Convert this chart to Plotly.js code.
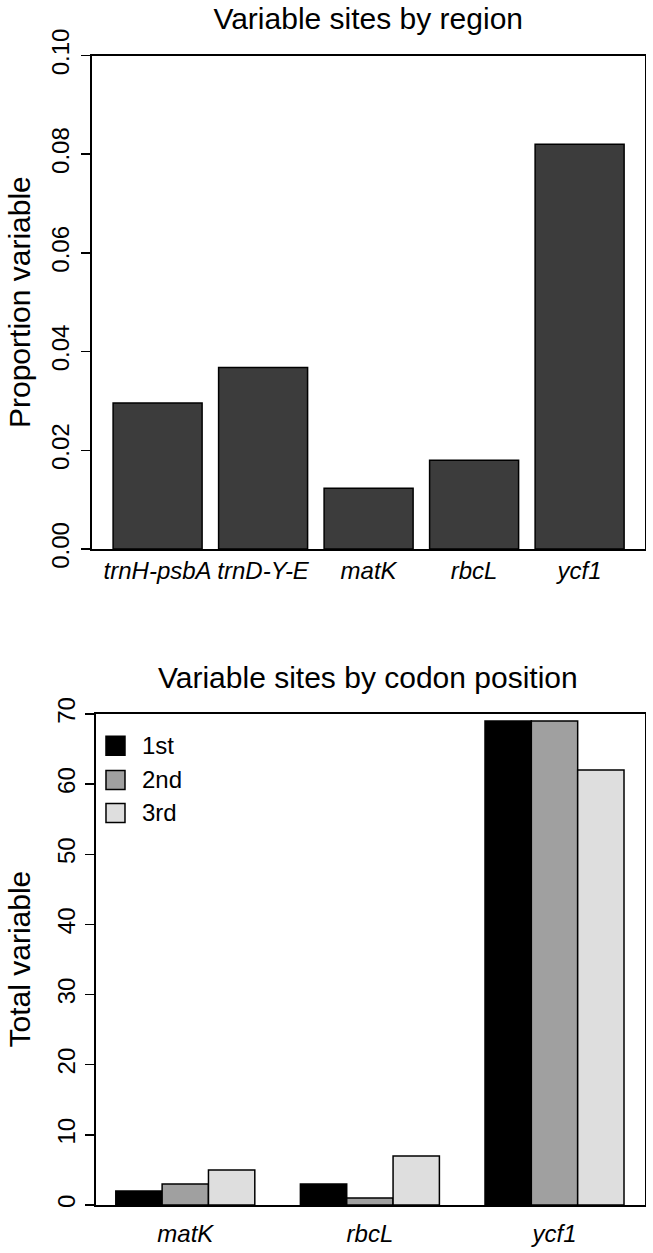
<!DOCTYPE html>
<html>
<head>
<meta charset="utf-8">
<script src="https://cdn.plot.ly/plotly-3.0.1.min.js"></script>
<style>html,body{margin:0;padding:0;background:#fff;}#chart{width:653px;height:1253px;}</style>
</head>
<body>
<div id="chart"></div>
<script>
// ---- data ----
const regions = ["trnH-psbA", "trnD-Y-E", "matK", "rbcL", "ycf1"];
const proportionVariable = [0.0296, 0.0368, 0.0123, 0.0180, 0.0820];

const genes = ["matK", "rbcL", "ycf1"];
const positionNames = ["1st", "2nd", "3rd"];
const pos1st = [2, 3, 69];
const pos2nd = [3, 1, 69];
const pos3rd = [5, 7, 62];
const positionValues = [pos1st, pos2nd, pos3rd];

const topTitle = "Variable sites by region";
const bottomTitle = "Variable sites by codon position";
const topYTitle = "Proportion variable";
const bottomYTitle = "Total variable";

// ---- style ----
const FONT = "Liberation Sans, Arial, Helvetica, sans-serif";
const posColors = ["#000000", "#a0a0a0", "#dedede"];
const W = 653, H = 1253;
const px = v => v / W;
const py = v => 1 - v / H;

const groupWidth = 0.753;
const barW = groupWidth / 3;

const traces = [];
traces.push({
  type: "bar", x: regions, y: proportionVariable, xaxis: "x", yaxis: "y",
  width: 0.8436,
  marker: {color: "#3c3c3c", line: {color: "#000", width: 1.5}},
  showlegend: false, hoverinfo: "x+y"
});
positionValues.forEach((vals, i) => {
  traces.push({
    type: "bar", x: genes, y: vals, xaxis: "x2", yaxis: "y2", name: positionNames[i],
    width: barW, offset: -groupWidth / 2 + i * barW,
    marker: {color: posColors[i], line: {color: "#000", width: 1.5}},
    showlegend: false
  });
});

const axisCommon = {
  showline: true, mirror: true, linecolor: "#000", linewidth: 1.6,
  showgrid: false, zeroline: false,
  tickfont: {family: FONT, size: 24, color: "#000"}
};

// custom legend (R-style) in x2/y2 domain coordinates
const shapes = [];
const annotations = [];
const legRows = [0.9354, 0.8656, 0.7984];
positionNames.forEach((n, i) => {
  shapes.push({
    type: "rect", xref: "x2 domain", yref: "y2 domain",
    x0: 0.0191, x1: 0.0537, y0: legRows[i] - 0.0194, y1: legRows[i] + 0.0194,
    fillcolor: posColors[i], line: {color: "#000", width: 1.5}
  });
  annotations.push({
    xref: "x2 domain", yref: "y2 domain", x: 0.081, y: legRows[i],
    xanchor: "left", yanchor: "middle", text: n, showarrow: false,
    font: {family: FONT, size: 24, color: "#000"}
  });
});

annotations.push({
  xref: "paper", yref: "paper", x: px(368.2), y: py(677), xanchor: "center", yanchor: "middle",
  text: bottomTitle, showarrow: false, font: {family: FONT, size: 30, color: "#000"}
});
annotations.push({
  xref: "paper", yref: "paper", x: px(19), y: py(302), xanchor: "center", yanchor: "middle",
  textangle: -90, text: topYTitle, showarrow: false, font: {family: FONT, size: 30, color: "#000"}
});
annotations.push({
  xref: "paper", yref: "paper", x: px(19), y: py(959.5), xanchor: "center", yanchor: "middle",
  textangle: -90, text: bottomYTitle, showarrow: false, font: {family: FONT, size: 30, color: "#000"}
});

const layout = {
  width: W, height: H,
  margin: {l: 0, r: 0, t: 0, b: 0},
  paper_bgcolor: "#fff", plot_bgcolor: "#fff",
  barmode: "overlay",
  title: {text: topTitle, x: px(368.2), xanchor: "center", y: py(18), yanchor: "middle",
          xref: "paper", yref: "paper", font: {family: FONT, size: 30, color: "#000"}},
  xaxis: Object.assign({}, axisCommon, {
    domain: [px(91.6), px(644.7)], anchor: "y", type: "category",
    range: [-0.6256, 4.617], ticks: "",
    tickfont: {family: FONT, size: 24, color: "#000", style: "italic"}
  }),
  yaxis: Object.assign({}, axisCommon, {
    domain: [py(549), py(55.5)], anchor: "x", range: [0, 0.1], dtick: 0.02, tick0: 0,
    tickformat: ".2f", ticks: "outside", ticklen: 9, tickwidth: 1.5, tickcolor: "#000",
    tickangle: -90, ticklabelstandoff: 2
  }),
  xaxis2: Object.assign({}, axisCommon, {
    domain: [px(95.5), px(644.7)], anchor: "y2", type: "category",
    range: [-0.4864, 2.4886], ticks: "", ticklabelstandoff: 7,
    tickfont: {family: FONT, size: 24, color: "#000", style: "italic"}
  }),
  yaxis2: Object.assign({}, axisCommon, {
    domain: [py(1205), py(714)], anchor: "x2", range: [0, 70], dtick: 10, tick0: 0,
    ticks: "outside", ticklen: 9, tickwidth: 1.5, tickcolor: "#000",
    tickangle: -90
  }),
  shapes: shapes,
  annotations: annotations
};

Plotly.newPlot("chart", traces, layout, {displayModeBar: false, staticPlot: true});
</script>
</body>
</html>
